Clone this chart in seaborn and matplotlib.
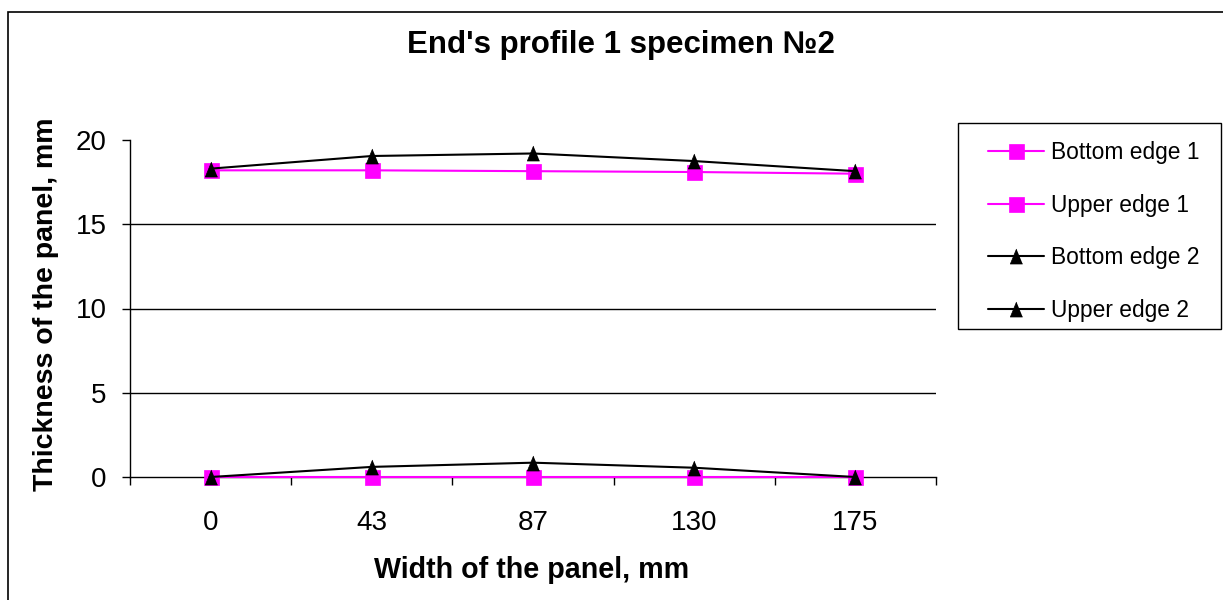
import matplotlib
matplotlib.use("Agg")
import matplotlib.pyplot as plt
from matplotlib.patches import Rectangle
from matplotlib.ticker import FixedLocator
import pandas as pd
import seaborn as sns

# Measurement positions across the panel width (mm), shown as categories
widths = ["0", "43", "87", "130", "175"]

# Panel thickness profiles (mm)
bottom_edge_1 = [0.0, 0.0, 0.0, 0.0, 0.0]
upper_edge_1 = [18.2, 18.2, 18.15, 18.1, 18.0]
bottom_edge_2 = [0.0, 0.6, 0.85, 0.55, 0.0]
upper_edge_2 = [18.3, 19.05, 19.2, 18.75, 18.15]

series_names = ["Bottom edge 1", "Upper edge 1", "Bottom edge 2", "Upper edge 2"]
y_ticks = [0, 5, 10, 15, 20]

sns.set_theme(style="white")
plt.rcParams["font.family"] = ["Liberation Sans", "DejaVu Sans"]
plt.rcParams.update({"text.color": "black", "axes.labelcolor": "black",
                     "xtick.color": "black", "ytick.color": "black"})

rows = []
for name, values in zip(series_names,
                        [bottom_edge_1, upper_edge_1, bottom_edge_2, upper_edge_2]):
    for i, (w, v) in enumerate(zip(widths, values)):
        rows.append({"pos": i, "width": w, "thickness": v, "series": name})
df = pd.DataFrame(rows)

magenta = "#FF00FF"
palette = {"Bottom edge 1": magenta, "Upper edge 1": magenta,
           "Bottom edge 2": "black", "Upper edge 2": "black"}
tri = [(0, 1), (-0.82, -1), (0.82, -1)]
markers = {"Bottom edge 1": "s", "Upper edge 1": "s",
           "Bottom edge 2": tri, "Upper edge 2": tri}

W, H = 1223, 600
fig = plt.figure(figsize=(W / 100, H / 100), dpi=100)
ax = fig.add_axes([130 / W, 1 - 477 / H, (936 - 130) / W, (477 - 140) / H])

sns.lineplot(data=df, x="pos", y="thickness", hue="series", style="series",
             hue_order=series_names, style_order=series_names,
             palette=palette, markers=markers, dashes=False,
             markersize=10.8, linewidth=1.5, legend=False, ax=ax, sort=False)

for line in ax.lines:
    line.set_markeredgecolor(line.get_color())
    line.set_markerfacecolor(line.get_color())
    line.set_markeredgewidth(0.5)
    line.set_clip_on(False)
    line.set_zorder(3)

# Axes limits and ticks (category axis with ticks between categories)
ax.set_xlim(-0.5, len(widths) - 0.5)
ax.set_ylim(0, 20)
ax.set_yticks(y_ticks)
ax.set_yticklabels([str(t) for t in y_ticks])
ax.set_xticks(range(len(widths)))
ax.set_xticklabels(widths)
ax.xaxis.set_minor_locator(FixedLocator([i - 0.5 for i in range(len(widths) + 1)]))
ax.tick_params(axis="x", which="major", length=0, pad=24, labelsize=20, colors="black")
ax.tick_params(axis="x", which="minor", length=6, width=1, direction="out",
               color="black", bottom=True)
ax.tick_params(axis="y", which="major", length=6, width=1, direction="out",
               pad=11, labelsize=20, colors="black", left=True)

for y in [5, 10, 15]:
    ax.axhline(y, color="black", linewidth=1, zorder=0)

for side in ["top", "right"]:
    ax.spines[side].set_visible(False)
for side in ["left", "bottom"]:
    ax.spines[side].set_color("black")
    ax.spines[side].set_linewidth(1)
    ax.spines[side].set_zorder(2)
ax.set_facecolor("white")

ax.set_xlabel("Width of the panel, mm", fontsize=20.6, fontweight="bold")
ax.set_ylabel("Thickness of the panel, mm", fontsize=20.5, fontweight="bold")
ax.xaxis.label.set_va("baseline")
ax.xaxis.set_label_coords(532 / W, 1 - 578 / H, transform=fig.transFigure)
ax.yaxis.label.set_va("baseline")
ax.yaxis.set_label_coords(53 / W, 1 - 304 / H, transform=fig.transFigure)

fig.suptitle("End's profile 1 specimen №2", x=621 / W, y=1 - 53 / H,
             va="baseline", fontsize=22.5, fontweight="bold")

# Legend with a square frame
handles = list(ax.lines[:4])
leg = ax.legend(handles, series_names, loc="upper left",
                bbox_to_anchor=(988 / W, 1 - 141 / H), bbox_transform=fig.transFigure,
                frameon=False, fontsize=16.4, handlelength=2.45, handletextpad=0.3,
                labelspacing=1.3, borderpad=0, borderaxespad=0)
fig.add_artist(Rectangle((958 / W, 1 - 329 / H), (1221 - 958) / W, (329 - 123) / H,
                         transform=fig.transFigure, fill=False,
                         edgecolor="black", linewidth=1))

# Chart-area border
fig.add_artist(Rectangle((8 / W, -0.1), 1.2, 1.1 - 12 / H, transform=fig.transFigure,
                         fill=False, edgecolor="black", linewidth=1.2))

fig.savefig("out.png", dpi=100, facecolor="white")
